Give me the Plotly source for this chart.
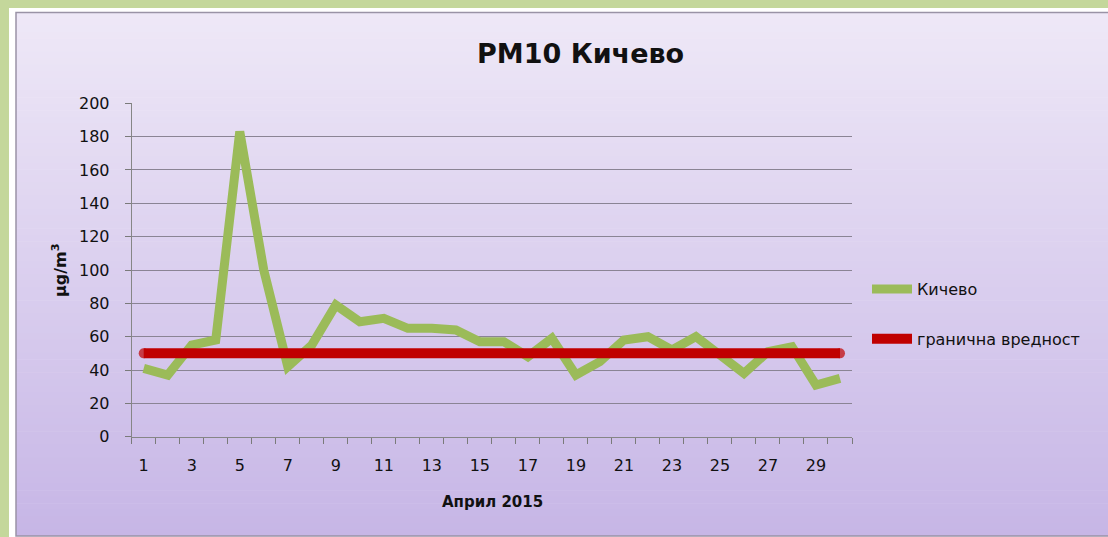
import plotly.graph_objects as go

W, H = 1108, 537

days = list(range(1, 31))
kichevo = [41, 37, 55, 58, 183, 100, 42, 55, 79, 69, 71, 65, 65, 64, 57, 57, 48, 59, 37, 45,
           58, 60, 52, 60, 49, 38, 51, 54, 31, 35]
limit_value = [50] * 30
xtick_vals = list(range(1, 30, 2))
xtick_text = [str(v) for v in xtick_vals]
ytick_vals = list(range(0, 201, 20))

title_text = "PM10 Кичево"
x_title = "Април 2015"
y_title = "µg/m<sup>3</sup>"
series_names = ["Кичево", "гранична вредност"]

FONT = "DejaVu Sans"

# plot area in pixels
pl, pr, pt, pb = 131.7, 852.0, 103.3, 436.7

fig = go.Figure()
fig.add_trace(go.Scatter(x=days, y=kichevo, mode="lines", name=series_names[0],
                         legendgroup="a",
                         line=dict(color="#9bbb59", width=9, shape="linear"),
                         hoverinfo="x+y"))
cap_sizes = [10] + [0] * (len(days) - 2) + [10]
fig.add_trace(go.Scatter(x=days, y=limit_value, mode="lines+markers", name=series_names[1],
                         legendgroup="b",
                         line=dict(color="#c00000", width=10),
                         marker=dict(size=cap_sizes, color="#c00000", line=dict(width=0)),
                         hoverinfo="x+y"))

shapes = []
# white inner frame
shapes.append(dict(type="rect", xref="paper", yref="paper", x0=9 / W, x1=1.0, y0=0, y1=1 - 8 / H,
                   fillcolor="#ffffff", line=dict(width=0), layer="below"))
# gradient panel made of bands
top_c = (0xee, 0xe8, 0xf7)
bot_c = (0xc7, 0xb6, 0xe6)
y_top, y_bot = 12.0, 536.0
n = 80
for i in range(n):
    t = i / (n - 1)
    c = tuple(round(top_c[k] + (bot_c[k] - top_c[k]) * t) for k in range(3))
    ya = y_top + (y_bot - y_top) * i / n
    yb = y_top + (y_bot - y_top) * (i + 1) / n + 0.6
    shapes.append(dict(type="rect", xref="paper", yref="paper", x0=16 / W, x1=1.0,
                       y0=1 - min(yb, y_bot) / H, y1=1 - ya / H,
                       fillcolor="rgb(%d,%d,%d)" % c, line=dict(width=0), layer="below"))
# panel border
shapes.append(dict(type="rect", xref="paper", yref="paper", x0=16 / W, x1=1.2, y0=1 - 536 / H, y1=1 - 12.5 / H,
                   fillcolor="rgba(0,0,0,0)", line=dict(color="#9a93a6", width=1.5), layer="below"))

fig.update_layout(
    width=W, height=H,
    autosize=False,
    margin=dict(l=0, r=0, t=0, b=0, pad=0),
    paper_bgcolor="#c4d79b",
    plot_bgcolor="rgba(0,0,0,0)",
    shapes=shapes,
    showlegend=True,
    legend=dict(x=867 / W, y=1 - 272 / H, xanchor="left", yanchor="top",
                bgcolor="rgba(0,0,0,0)", font=dict(family=FONT, size=16, color="#111111"),
                tracegroupgap=26, itemwidth=40),
    annotations=[
        dict(text="<b>%s</b>" % title_text, xref="paper", yref="paper", x=580 / W, y=1 - 53 / H,
             showarrow=False, font=dict(family=FONT, size=27, color="#111111"),
             xanchor="center", yanchor="middle"),
        dict(text="<b>%s</b>" % x_title, xref="paper", yref="paper", x=492 / W, y=1 - 502 / H,
             showarrow=False, font=dict(family=FONT, size=15, color="#111111"),
             xanchor="center", yanchor="middle"),
        dict(text="<b>%s</b>" % y_title, xref="paper", yref="paper", x=59 / W, y=1 - 270 / H,
             showarrow=False, font=dict(family=FONT, size=16, color="#111111"),
             textangle=-90, xanchor="center", yanchor="middle"),
    ],
    xaxis=dict(domain=[pl / W, pr / W], range=[0.5, 30.5], tickmode="array",
               tickvals=xtick_vals, ticktext=xtick_text, ticks="", showgrid=False,
               zeroline=False, showline=True, linecolor="#868686", linewidth=1,
               tickfont=dict(family=FONT, size=16, color="#111111"), ticklabelstandoff=14,
               minor=dict(tickmode="array", tickvals=[d + 0.5 for d in range(0, 31)],
                          ticks="outside", ticklen=6, tickcolor="#7a7a7a", tickwidth=1,
                          showgrid=False),
               automargin=False, fixedrange=True),
    yaxis=dict(domain=[1 - pb / H, 1 - pt / H], range=[0, 200], tickmode="array",
               tickvals=ytick_vals, ticks="outside", ticklen=6, tickcolor="#7a7a7a",
               showgrid=True, gridcolor="#8a8494", gridwidth=1, zeroline=False,
               showline=True, linecolor="#868686", linewidth=1,
               tickfont=dict(family=FONT, size=16, color="#111111"), ticklabelstandoff=12,
               automargin=False, fixedrange=True),
)

fig.write_html("out.html", config={"responsive": False, "displayModeBar": False},
               post_script="document.body.style.margin='0';document.body.style.overflow='hidden';")
